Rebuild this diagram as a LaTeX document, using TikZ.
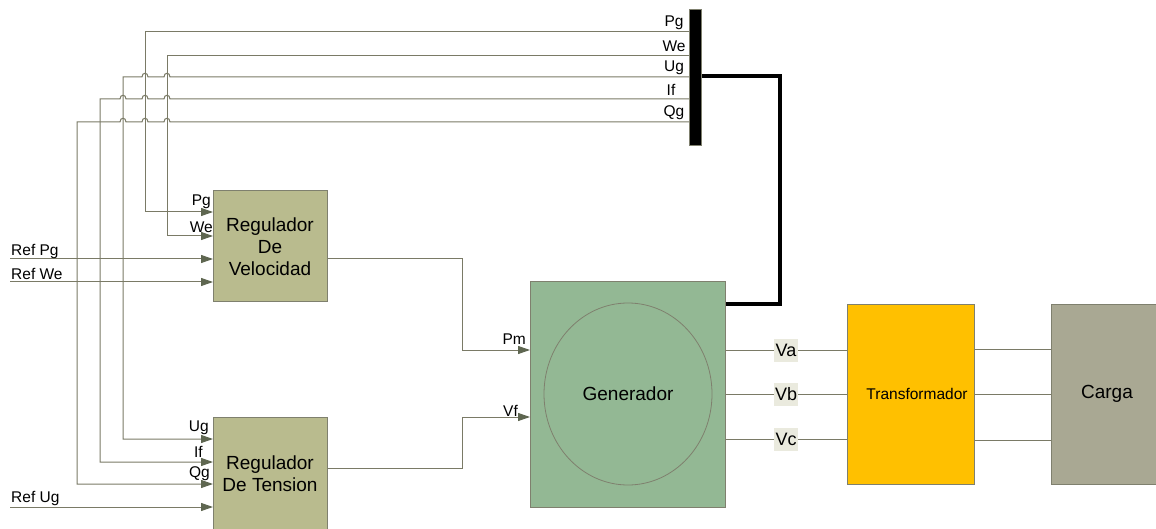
\documentclass[tikz,border=0pt]{standalone}
\usepackage{fontspec}
\setmainfont{Liberation Sans}
\usetikzlibrary{arrows.meta,shapes.geometric}
\definecolor{lineC}{HTML}{7A7A66}
\definecolor{arrC}{HTML}{5E6650}
\definecolor{regC}{HTML}{B9BB8E}
\definecolor{genC}{HTML}{93B894}
\definecolor{trC}{HTML}{FFC000}
\definecolor{carC}{HTML}{A9A893}
\definecolor{edgeC}{HTML}{7F806E}
\definecolor{vbg}{HTML}{EAEADE}
\begin{document}
\begin{tikzpicture}[x=1pt,y=-1pt,
 sig/.style={draw=lineC, line width=1pt},
 arr/.style={sig,-{Triangle[length=12pt,width=8pt,fill=arrC,color=arrC]}},
 box/.style={draw=edgeC,line width=1pt,anchor=north west,inner sep=0},
 sm/.style={font=\fontsize{15.5}{17}\selectfont,inner sep=0},
 big/.style={font=\fontsize{19}{22}\selectfont,align=center,inner sep=0},
 vlab/.style={font=\fontsize{18}{20}\selectfont,fill=vbg,inner sep=1pt,minimum width=24pt,minimum height=23pt},
]
\useasboundingbox (0,0) rectangle (1156,529);
\clip (0,0) rectangle (1156,529);
\fill[white] (0,0) rectangle (1156,529);

% y levels
\coordinate (yPg) at (0,32);
\coordinate (yWe) at (0,56);
\coordinate (yUg) at (0,77);
\coordinate (yIf) at (0,99);
\coordinate (yQg) at (0,122);
\coordinate (yBus) at (0,76);

% boxes
\node[box,fill=regC,minimum width=114pt,minimum height=111pt] (vel) at (213,190) {};
\node[box,fill=regC,minimum width=114pt,minimum height=140pt] (ten) at (213,417) {};
\node[box,fill=genC,minimum width=195pt,minimum height=226pt] (gen) at (530,281) {};
\node[draw=edgeC,line width=0.8pt,ellipse,minimum width=168pt,minimum height=182pt,inner sep=0] (rot) at (628,394) {};
\node[box,fill=trC,minimum width=127pt,minimum height=180pt] (tr) at (847,304) {};
\node[box,fill=carC,minimum width=130pt,minimum height=180pt] (car) at (1051,304) {};
\node[fill=black,draw=edgeC,line width=0.8pt,minimum width=12pt,minimum height=136pt,anchor=north west,inner sep=0] (bus) at (689,9) {};

% box labels
\node[big] at (270,247) {Regulador\\De\\Velocidad};
\node[big] at (270,474) {Regulador\\De Tension};
\node[big] at (628,394) {Generador};
\node[sm] at (917,394) {Transformador};
\node[big] at (1107,394) {Carga};

% signal lines from bus
\draw[arr] (bus.west |- yPg) -- (145,32) -- (145,212) -- (vel.west |- 0,212);
\draw[arr] (bus.west |- yWe) -- (167,56) -- (167,236) -- (vel.west |- 0,236);
\draw[arr] (bus.west |- yUg) -- (170,77) .. controls (170,72) and (164,72) .. (164,77)
  -- (148,77) .. controls (148,72) and (142,72) .. (142,77)
  -- (123,77) -- (123,439) -- (ten.west |- 0,439);
\draw[arr] (bus.west |- yIf) -- (170,99) .. controls (170,94) and (164,94) .. (164,99)
  -- (148,99) .. controls (148,94) and (142,94) .. (142,99)
  -- (126,99) .. controls (126,94) and (120,94) .. (120,99)
  -- (100,99) -- (100,462) -- (ten.west |- 0,462);
\draw[arr] (bus.west |- yQg) -- (170,122) .. controls (170,117) and (164,117) .. (164,122)
  -- (148,122) .. controls (148,117) and (142,117) .. (142,122)
  -- (126,122) .. controls (126,117) and (120,117) .. (120,122)
  -- (77,122) -- (77,484) -- (ten.west |- 0,484);

% bus labels
\node[sm] at (674,23) {Pg};
\node[sm] at (674,46) {We};
\node[sm] at (674,68) {Ug};
\node[sm] at (671,90) {If};
\node[sm] at (674,113) {Qg};

% reference inputs
\coordinate (rPg) at (10,259);
\coordinate (rWe) at (10,282);
\coordinate (rUg) at (10,507);
\draw[arr] (rPg) -- (vel.west |- rPg);
\draw[arr] (rWe) -- (vel.west |- rWe);
\draw[arr] (rUg) -- (ten.west |- rUg);
\node[sm,anchor=west] at (11,252) {Ref Pg};
\node[sm,anchor=west] at (11,274) {Ref We};
\node[sm,anchor=west] at (11,498) {Ref Ug};

% regulator input labels
\node[sm,anchor=east] at (211,202) {Pg};
\node[sm,anchor=east] at (213,227) {We};
\node[sm,anchor=east] at (209,428) {Ug};
\node[sm,anchor=east] at (203,452) {If};
\node[sm,anchor=east] at (210,474) {Qg};

% regulator outputs
\draw[arr] (vel.east |- 0,259) -- (462,259) -- (462,350) -- (gen.west |- 0,350);
\draw[arr] (ten.east |- 0,468) -- (462,468) -- (462,417) -- (gen.west |- 0,417);
\node[sm,anchor=east] at (526,339) {Pm};
\node[sm,anchor=east] at (518,411) {Vf};

% thick connection generator - bus
\draw[line width=4.5pt,line join=miter] (bus.east |- yBus) -- (780,76) -- (780,304) -- (gen.east |- 0,304);

% three phase lines
\foreach \yy/\lab in {350/Va,394/Vb,439/Vc}{
  \draw[sig] (gen.east |- 0,\yy) -- (tr.west |- 0,\yy);
  \node[vlab] at (786,\yy) {\lab};
}
\foreach \yy in {349,394,440}{
  \draw[sig] (tr.east |- 0,\yy) -- (car.west |- 0,\yy);
}
\end{tikzpicture}
\end{document}
